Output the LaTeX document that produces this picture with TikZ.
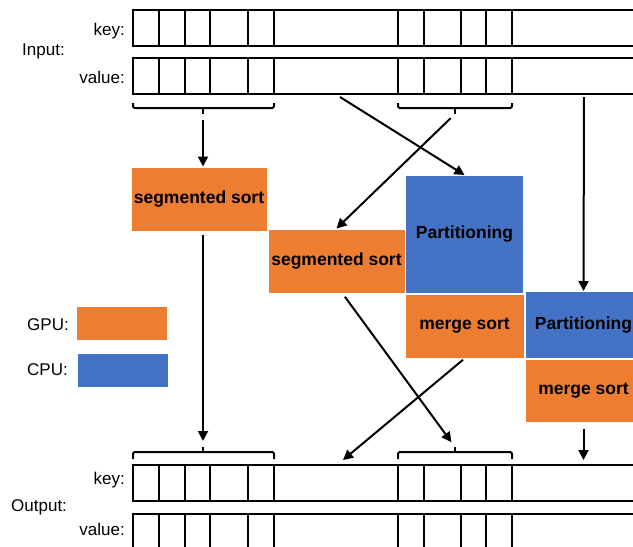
\documentclass[tikz,border=0pt]{standalone}
\usepackage{fontspec}
\setmainfont{Liberation Sans}
\usetikzlibrary{arrows.meta, calc, positioning}
\definecolor{gpuOrange}{HTML}{ED7D31}
\definecolor{cpuBlue}{HTML}{4472C4}

\begin{document}
\begin{tikzpicture}[x = 1pt, y = -1pt,
    rowlabel/.style = {inner sep = 0, font = \fontsize{17}{17}\selectfont},
    task/.style = {draw = white, line width = 1pt, inner sep = 0,
      font = \fontsize{17.5}{17.5}\selectfont\bfseries},
    gpu/.style = {task, fill = gpuOrange},
    cpu/.style = {task, fill = cpuBlue},
    flow/.style = {line width = 2pt, -{Triangle[length = 10pt, width = 10pt]}},
    bracket/.style = {line width = 2pt, rounded corners = 2pt}]
  \def\cellsX{133, 159, 185, 210, 248, 274, 398, 424, 461, 486, 512}

  \useasboundingbox (0, 0) rectangle (633, 547);
  \clip (0, 0) rectangle (633, 547);

  % ------------------------
  % key / value arrays
  % ------------------------

  \foreach \rowTop/\rowBot in {10/46, 58/94, 465/501, 514/580} {
    \draw[line width = 1.6pt] (133, \rowTop) rectangle (650, \rowBot);
    \foreach \x in \cellsX {
      \draw[line width = 1.6pt] (\x, \rowTop) to (\x, \rowBot);
    }
  }

  \node[rowlabel, anchor = base east] (inKeyText) at (125, 35) {key:};
  \node[rowlabel, anchor = base east] (inValueText) at (125, 83) {value:};
  \node[rowlabel, anchor = base west] (inText) at (22, 55) {Input:};
  \node[rowlabel, anchor = base east] (outKeyText) at (125, 484) {key:};
  \node[rowlabel, anchor = base east] (outValueText) at (125, 535) {value:};
  \node[rowlabel, anchor = base west] (outText) at (11, 511) {Output:};

  % brackets over the segments
  \coordinate (inTickA) at (203, 114);
  \coordinate (inTickB) at (455, 114);
  \coordinate (outTickA) at (203, 447);
  \coordinate (outTickB) at (455, 447);
  \coordinate (inSplit) at (340, 97);
  \coordinate (inRight) at (584, 97);
  \coordinate (outKey) at (343, 460);

  \draw[bracket] (133, 103) |- (274, 108) to (274, 103);
  \draw[bracket] (398, 103) |- (512, 108) to (512, 103);
  \draw[bracket] (203, 108) to (inTickA);
  \draw[bracket] (455, 108) to (inTickB);
  \draw[bracket] (133, 459) |- (274, 452) to (274, 459);
  \draw[bracket] (398, 459) |- (512, 452) to (512, 459);
  \draw[bracket] (203, 452) to (outTickA);
  \draw[bracket] (455, 452) to (outTickB);

  % ------------------------
  % sorting tasks
  % ------------------------

  \node[gpu, minimum width = 136pt, minimum height = 64pt] (segA) at (199, 199) {segmented sort};
  \node[gpu, minimum width = 137pt, minimum height = 64pt] (segB) at (336.5, 261) {segmented sort};
  \node[cpu, minimum width = 118pt, minimum height = 118pt] (partA) at (464.5, 234.5) {Partitioning};
  \node[gpu, minimum width = 119pt, minimum height = 64pt] (mergeA) at (464.5, 326) {merge sort};
  \node[cpu, minimum width = 117pt, minimum height = 67pt] (partB) at (583.5, 325) {Partitioning};
  \node[gpu, minimum width = 117pt, minimum height = 63pt] (mergeB) at (583.5, 390.5) {merge sort};

  % legend
  \node[gpu, draw = none, minimum width = 90pt, minimum height = 33pt] (gpuKey) at (122, 323.5) {};
  \node[cpu, draw = none, minimum width = 90pt, minimum height = 33pt] (cpuKey) at (123, 370.5) {};
  \node[rowlabel, anchor = base west] (gpuText) at (27, 330) {GPU:};
  \node[rowlabel, anchor = base west] (cpuText) at (27, 375) {CPU:};

  % ------------------------
  % data flow
  % ------------------------

  \draw[flow, shorten <= 6pt] (inTickA) to (inTickA |- segA.north);
  \draw[flow] (inSplit) to (partA.north);
  \draw[flow, shorten <= 6pt] (inTickB) to (segB.north);
  \draw[flow] (inRight) to (partB.north);
  \draw[flow, shorten <= 3pt, shorten >= 6pt] (outTickA |- segA.south) to (outTickA);
  \draw[flow, shorten <= 4pt, shorten >= 6pt] ([xshift = 6pt]segB.south) to (outTickB);
  \draw[flow, shorten <= 2pt] (mergeA.south) to (outKey);
  \draw[flow, shorten <= 6pt] (mergeB.south) to (mergeB.south |- outKey);
\end{tikzpicture}
\end{document}
